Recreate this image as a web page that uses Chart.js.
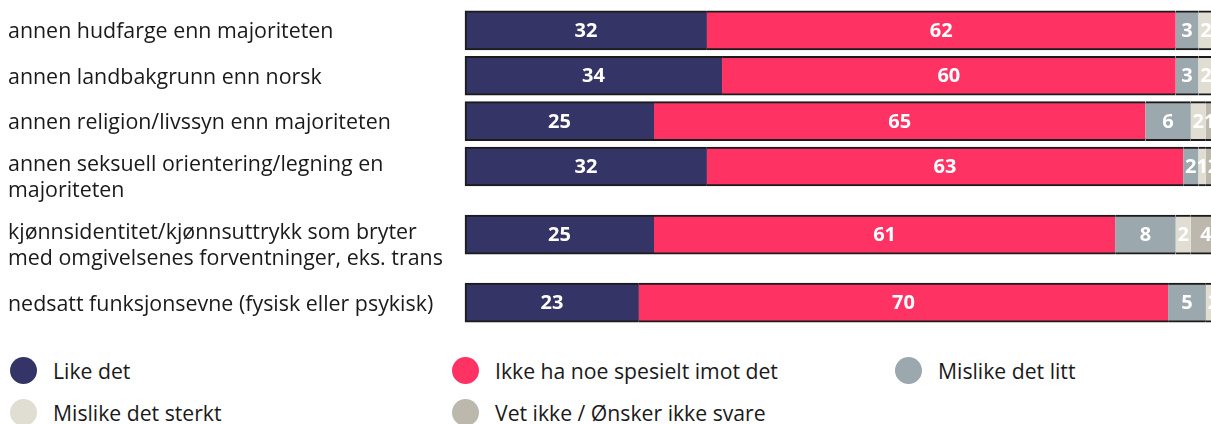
<!DOCTYPE html>
<html>
<head>
<meta charset="utf-8">
<script src="https://cdn.jsdelivr.net/npm/chart.js@4"></script>
<style>
  html, body { margin: 0; padding: 0; background: #fff; overflow: hidden; }
  body { width: 1211px; height: 424px; font-family: "Open Sans", sans-serif; color: #1a1a1a; }
  #wrap { position: relative; width: 1222px; height: 340px; }
  #legend { display: grid; grid-template-columns: 442px 443px auto; row-gap: 15px; margin: 17px 0 0 10px; }
  .item { display: flex; align-items: center; height: 27px; font-size: 21.2px; }
  .dot { width: 27px; height: 27px; border-radius: 50%; margin-right: 16px; flex: none; }
</style>
</head>
<body>
<div id="wrap"><canvas id="myChart"></canvas></div>
<div id="legend"></div>
<script>
/* DATA */
const categories = [
    'annen hudfarge enn majoriteten',
    'annen landbakgrunn enn norsk',
    'annen religion/livssyn enn majoriteten',
    ['annen seksuell orientering/legning en', 'majoriteten'],
    ['kjønnsidentitet/kjønnsuttrykk som bryter', 'med omgivelsenes forventninger, eks. trans'],
    'nedsatt funksjonsevne (fysisk eller psykisk)',
];
const seriesNames = [
    'Like det',
    'Ikke ha noe spesielt imot det',
    'Mislike det litt',
    'Mislike det sterkt',
    'Vet ikke / Ønsker ikke svare',
];
const likeDet       = [32, 34, 25, 32, 25, 23];
const ikkeImot      = [62, 60, 65, 63, 61, 70];
const mislikeLitt   = [3, 3, 6, 2, 8, 5];
const mislikeSterkt = [2, 2, 2, 1, 2, 2];
const vetIkke       = [1, 1, 1, 2, 4, 0];

const colors = ['#353466', '#ff3264', '#9ba8ad', '#e0ddd3', '#bcb8ad'];

/* LAYOUT: rows sit on slots of the category axis, blank slots make the gaps */
const rowSlot = [0, 2, 4, 6, 9, 12];
const slotCount = 13;

function toSlots(values){
    let out = new Array(slotCount).fill(null);
    rowSlot.forEach((s, i) => out[s] = values[i]);
    return out;
}
const slotLabels = toSlots(categories).map(l => l === null ? '' : l);

const border = '#1b1b1b';
const datasets = [likeDet, ikkeImot, mislikeLitt, mislikeSterkt, vetIkke].map((vals, i) => ({
    label: seriesNames[i],
    data: toSlots(vals),
    backgroundColor: colors[i],
    borderColor: border,
    borderWidth: { top: 2, bottom: 2, left: i === 0 ? 2 : 0, right: 0 },
    borderSkipped: false,
    barThickness: 39,
    clip: false,
}));

/* row labels on the left, first line level with the bar */
const rowLabels = {
    id: 'rowLabels',
    afterDraw(chart){
        const ctx = chart.ctx;
        const y = chart.scales.y;
        ctx.save();
        ctx.font = '21.4px "Open Sans"';
        ctx.fillStyle = '#1a1a1a';
        ctx.textAlign = 'left';
        ctx.textBaseline = 'middle';
        categories.forEach((cat, i) => {
            const lines = Array.isArray(cat) ? cat : [cat];
            let cy = y.getPixelForValue(rowSlot[i]) + 2;
            if (lines.length > 1) cy -= 4;
            lines.forEach((line, k) => ctx.fillText(line, 8, cy + k * 26));
        });
        ctx.restore();
    }
};

/* value inside each segment */
const valueLabels = {
    id: 'valueLabels',
    afterDatasetsDraw(chart){
        const ctx = chart.ctx;
        ctx.save();
        ctx.font = 'bold 20px "Open Sans"';
        ctx.fillStyle = '#fff';
        ctx.textAlign = 'center';
        ctx.textBaseline = 'middle';
        chart.data.datasets.forEach((ds, i) => {
            chart.getDatasetMeta(i).data.forEach((bar, j) => {
                const v = ds.data[j];
                if (!v) return;
                const p = bar.getCenterPoint();
                ctx.fillText(v, p.x, p.y + 1);
            });
        });
        ctx.restore();
    }
};

const config = {
    type: 'bar',
    data: { labels: slotLabels, datasets },
    options: {
        indexAxis: 'y',
        responsive: true,
        maintainAspectRatio: false,
        animation: false,
        layout: { padding: { left: 465, right: 1, top: 19, bottom: 26 } },
        scales: {
            x: { stacked: true, min: 0, max: 100, display: false },
            y: { stacked: true, display: false },
        },
        plugins: {
            legend: { display: false },
            tooltip: { enabled: false },
        }
    },
    plugins: [rowLabels, valueLabels]
};

let myChart = new Chart(document.getElementById('myChart'), config);

/* LEGEND */
let legend = document.getElementById('legend');
myChart.data.datasets.forEach(ds => {
    let item = document.createElement('div');
    item.className = 'item';
    item.innerHTML = '<span class="dot" style="background:' + ds.backgroundColor + '"></span>' + ds.label;
    legend.appendChild(item);
});
</script>
</body>
</html>
